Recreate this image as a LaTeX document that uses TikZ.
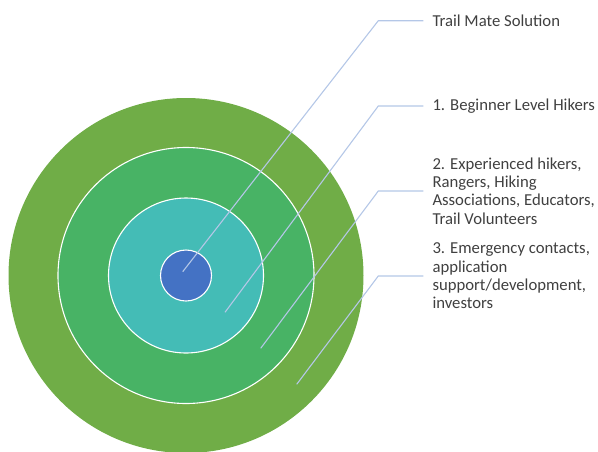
\documentclass[tikz,border=0pt]{standalone}
\usepackage{fontspec}
\setmainfont{Carlito}
\definecolor{ringA}{HTML}{70AD47}
\definecolor{ringB}{HTML}{48B365}
\definecolor{ringC}{HTML}{44BCB6}
\definecolor{ringD}{HTML}{4472C4}
\definecolor{leadc}{HTML}{B4C7E7}
\definecolor{txtc}{HTML}{404040}
\begin{document}
\begin{tikzpicture}[x=1pt,y=-1pt,
  ring/.style={circle,inner sep=0pt,draw=white,line width=1.1pt},
  leader/.style={draw=leadc,line width=1.1pt},
  lbl/.style={anchor=west,inner xsep=9pt,inner ysep=0pt,align=left,text=txtc,
    font=\fontsize{16.7}{18.3}\selectfont}]
\useasboundingbox (0,0) rectangle (598,451);
\node[ring,fill=ringA,draw=none,minimum size=355pt] (r3) at (186,275.5) {};
\node[ring,fill=ringB,minimum size=256pt] (r2) at (186,275.5) {};
\node[ring,fill=ringC,minimum size=155pt] (r1) at (186,275.5) {};
\node[ring,fill=ringD,minimum size=51pt] (r0) at (186,275.5) {};
% leader start points and knees
\coordinate (s0) at (182.7,271.7);
\coordinate (s1) at (225,312.3);
\coordinate (s2) at (260.7,348.3);
\coordinate (s3) at (296.7,384.3);
\coordinate (k0) at (378.3,20.7);
\coordinate (k1) at (378.3,106);
\coordinate (k2) at (378.3,191);
\coordinate (k3) at (378.3,276);
% labels
\node[lbl] (l0) at (423.3,20.7) {Trail Mate Solution};
\node[lbl] (l1) at (423.3,106) {1. Beginner Level Hikers};
\node[lbl] (l2) at (423.3,191) {2. Experienced hikers,\\Rangers, Hiking\\Associations, Educators,\\Trail Volunteers};
\node[lbl] (l3) at (423.3,276) {3. Emergency contacts,\\application\\support/development,\\investors};
\draw[leader] (s0) -- (k0) -- (l0.west);
\draw[leader] (s1) -- (k1) -- (l1.west);
\draw[leader] (s2) -- (k2) -- (l2.west);
\draw[leader] (s3) -- (k3) -- (l3.west);
\end{tikzpicture}
\end{document}
